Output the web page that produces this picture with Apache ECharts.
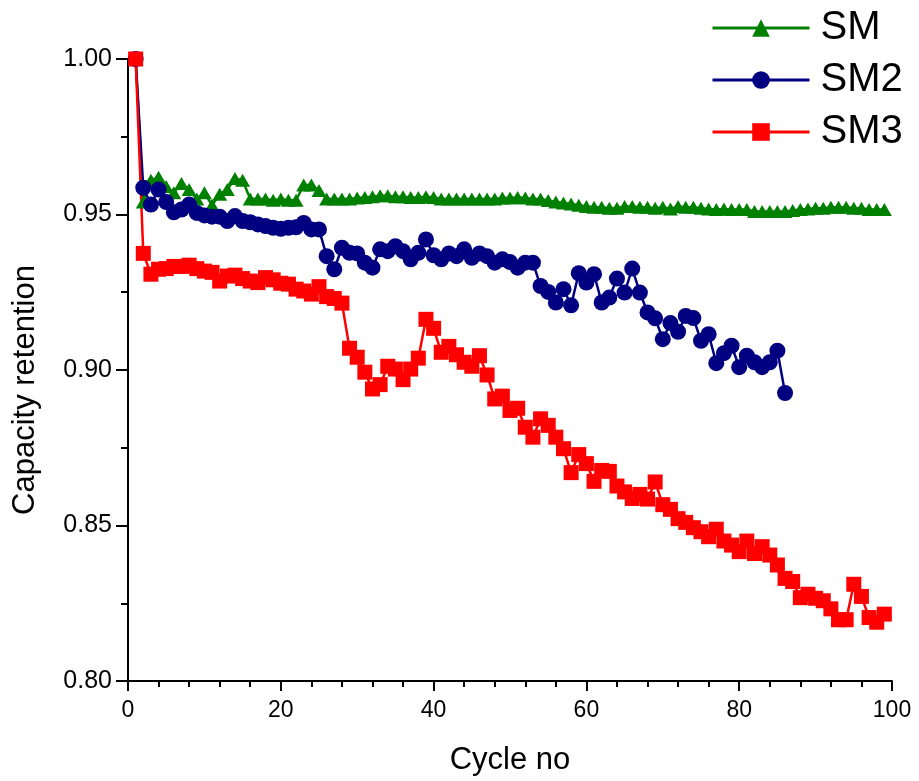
<!DOCTYPE html>
<html>
<head>
<meta charset="utf-8">
<script src="https://cdn.jsdelivr.net/npm/echarts@6/dist/echarts.min.js"></script>
<style>
html,body{margin:0;padding:0;background:#fff;}
#chart{width:919px;height:781px;}
</style>
</head>
<body>
<div id="chart"></div>
<script>
const seriesNames = ['SM', 'SM2', 'SM3'];

const cyclesSM = [1,2,3,4,5,6,7,8,9,10,11,12,13,14,15,16,17,18,19,20,21,22,23,24,25,26,27,28,29,30,31,32,33,34,35,36,37,38,39,40,41,42,43,44,45,46,47,48,49,50,51,52,53,54,55,56,57,58,59,60,61,62,63,64,65,66,67,68,69,70,71,72,73,74,75,76,77,78,79,80,81,82,83,84,85,86,87,88,89,90,91,92,93,94,95,96,97,98,99];
const valuesSM = [1.000,0.954,0.961,0.962,0.959,0.957,0.960,0.958,0.955,0.957,0.953,0.9565,0.958,0.9616,0.961,0.955,0.955,0.955,0.9546,0.955,0.9546,0.9546,0.9595,0.9595,0.9577,0.955,0.955,0.955,0.955,0.9553,0.9555,0.9557,0.956,0.956,0.9557,0.9557,0.9555,0.9555,0.9557,0.9555,0.955,0.955,0.955,0.955,0.955,0.955,0.955,0.955,0.9553,0.9553,0.9555,0.9553,0.955,0.955,0.9545,0.954,0.9537,0.9534,0.953,0.9526,0.9523,0.9523,0.952,0.952,0.9526,0.9526,0.9523,0.9523,0.952,0.9523,0.9518,0.9526,0.9523,0.9523,0.952,0.9518,0.9516,0.9518,0.9516,0.9516,0.9516,0.951,0.951,0.951,0.951,0.951,0.9513,0.9516,0.9518,0.952,0.952,0.9523,0.9523,0.9523,0.952,0.952,0.9516,0.9516,0.9516];

const cyclesSM2 = [1,2,3,4,5,6,7,8,9,10,11,12,13,14,15,16,17,18,19,20,21,22,23,24,25,26,27,28,29,30,31,32,33,34,35,36,37,38,39,40,41,42,43,44,45,46,47,48,49,50,51,52,53,54,55,56,57,58,59,60,61,62,63,64,65,66,67,68,69,70,71,72,73,74,75,76,77,78,79,80,81,82,83,84,85,86];
const valuesSM2 = [1.000,0.9586,0.9532,0.9580,0.9540,0.9507,0.9516,0.9532,0.9505,0.9497,0.9493,0.9493,0.9479,0.9495,0.9479,0.9475,0.9468,0.9463,0.9457,0.9454,0.9457,0.9459,0.9473,0.9452,0.9452,0.9366,0.9324,0.9393,0.9377,0.9375,0.9345,0.9329,0.9388,0.9382,0.9398,0.9382,0.9356,0.9377,0.9420,0.9369,0.9356,0.9375,0.9366,0.9388,0.9361,0.9375,0.9366,0.9345,0.9356,0.9347,0.9329,0.9345,0.9345,0.9270,0.9251,0.9217,0.9260,0.9208,0.9311,0.9281,0.9308,0.9217,0.9233,0.9294,0.9249,0.9326,0.9249,0.9185,0.9166,0.9099,0.9151,0.9123,0.9174,0.9167,0.9094,0.9115,0.9022,0.9054,0.9078,0.9009,0.9046,0.9025,0.9009,0.9025,0.9062,0.8926];

const cyclesSM3 = [1,2,3,4,5,6,7,8,9,10,11,12,13,14,15,16,17,18,19,20,21,22,23,24,25,26,27,28,29,30,31,32,33,34,35,36,37,38,39,40,41,42,43,44,45,46,47,48,49,50,51,52,53,54,55,56,57,58,59,60,61,62,63,64,65,66,67,68,69,70,71,72,73,74,75,76,77,78,79,80,81,82,83,84,85,86,87,88,89,90,91,92,93,94,95,96,97,98,99];
const valuesSM3 = [1.000,0.9375,0.9308,0.9324,0.9326,0.9333,0.9333,0.9337,0.9326,0.9318,0.9314,0.9286,0.9302,0.9305,0.9294,0.9286,0.9281,0.9297,0.929,0.9279,0.9276,0.926,0.9254,0.9244,0.9268,0.9236,0.923,0.9215,0.907,0.9041,0.8993,0.8939,0.8953,0.9012,0.9003,0.8969,0.9003,0.9038,0.9163,0.9134,0.9057,0.9076,0.9049,0.9025,0.9012,0.9046,0.8984,0.8907,0.8916,0.887,0.8877,0.8816,0.8784,0.8843,0.8822,0.8784,0.8747,0.8670,0.8728,0.8699,0.8642,0.8677,0.8674,0.8627,0.8608,0.8587,0.86,0.8585,0.864,0.8567,0.8552,0.8522,0.851,0.8493,0.848,0.8464,0.8488,0.845,0.8437,0.8416,0.845,0.841,0.8432,0.8405,0.8373,0.833,0.832,0.8268,0.8279,0.8266,0.8258,0.8232,0.8197,0.8197,0.8311,0.8272,0.8204,0.8189,0.8215];

const xTickValues = [0, 20, 40, 60, 80, 100];
const yTickValues = [0.80, 0.85, 0.90, 0.95, 1.00];

function pairs(xs, ys) { return xs.map((x, i) => [x, ys[i]]); }

const FONT = 'Liberation Sans, Arial, sans-serif';
const chart = echarts.init(document.getElementById('chart'), null, {renderer: 'canvas'});

const option = {
  backgroundColor: '#ffffff',
  animation: false,
  grid: {left: 128, right: 27, top: 59, bottom: 98, containLabel: false},
  legend: {
    data: seriesNames,
    orient: 'vertical',
    left: 711,
    top: 8,
    padding: 0,
    itemWidth: 97,
    itemHeight: 22,
    itemGap: 12,
    textStyle: {fontSize: 40, fontFamily: FONT, color: '#000', lineHeight: 40, padding: [0, 0, 0, 6]},
    lineStyle: {width: 3}
  },
  xAxis: {
    type: 'value',
    min: xTickValues[0],
    max: xTickValues[xTickValues.length - 1],
    interval: 20,
    name: 'Cycle no',
    nameLocation: 'middle',
    nameGap: 64,
    nameTextStyle: {fontSize: 31, fontFamily: FONT, color: '#000'},
    axisLine: {show: true, onZero: false, lineStyle: {color: '#000', width: 2}},
    axisTick: {show: true, inside: false, length: 10, lineStyle: {color: '#000', width: 2}},
    minorTick: {show: true, splitNumber: 5, length: 6, lineStyle: {color: '#000', width: 2}},
    axisLabel: {fontSize: 23, fontFamily: FONT, color: '#000', margin: 18},
    splitLine: {show: false}
  },
  yAxis: {
    type: 'value',
    min: yTickValues[0],
    max: yTickValues[yTickValues.length - 1],
    interval: 0.05,
    name: 'Capacity retention',
    nameLocation: 'middle',
    nameGap: 87,
    nameTextStyle: {fontSize: 31, fontFamily: FONT, color: '#000', padding: [0, 40, 0, 0]},
    axisLine: {show: true, onZero: false, lineStyle: {color: '#000', width: 2}},
    axisTick: {show: true, inside: false, length: 12, lineStyle: {color: '#000', width: 2}},
    minorTick: {show: true, splitNumber: 2, length: 7, lineStyle: {color: '#000', width: 2}},
    axisLabel: {fontSize: 25, fontFamily: FONT, color: '#000', margin: 16, formatter: v => v.toFixed(2)},
    splitLine: {show: false}
  },
  series: [
    {
      name: seriesNames[0], type: 'line', data: pairs(cyclesSM, valuesSM),
      symbol: 'triangle', symbolSize: [15, 13], showAllSymbol: true,
      itemStyle: {color: '#008000'}, lineStyle: {color: '#008000', width: 2.5}
    },
    {
      name: seriesNames[1], type: 'line', data: pairs(cyclesSM2, valuesSM2),
      symbol: 'circle', symbolSize: 16, showAllSymbol: true,
      itemStyle: {color: '#000080'}, lineStyle: {color: '#000080', width: 2.5}
    },
    {
      name: seriesNames[2], type: 'line', data: pairs(cyclesSM3, valuesSM3),
      symbol: 'rect', symbolSize: 15, showAllSymbol: true,
      itemStyle: {color: '#ff0000'}, lineStyle: {color: '#ff0000', width: 2.5}
    }
  ]
};
chart.setOption(option);
</script>
</body>
</html>
